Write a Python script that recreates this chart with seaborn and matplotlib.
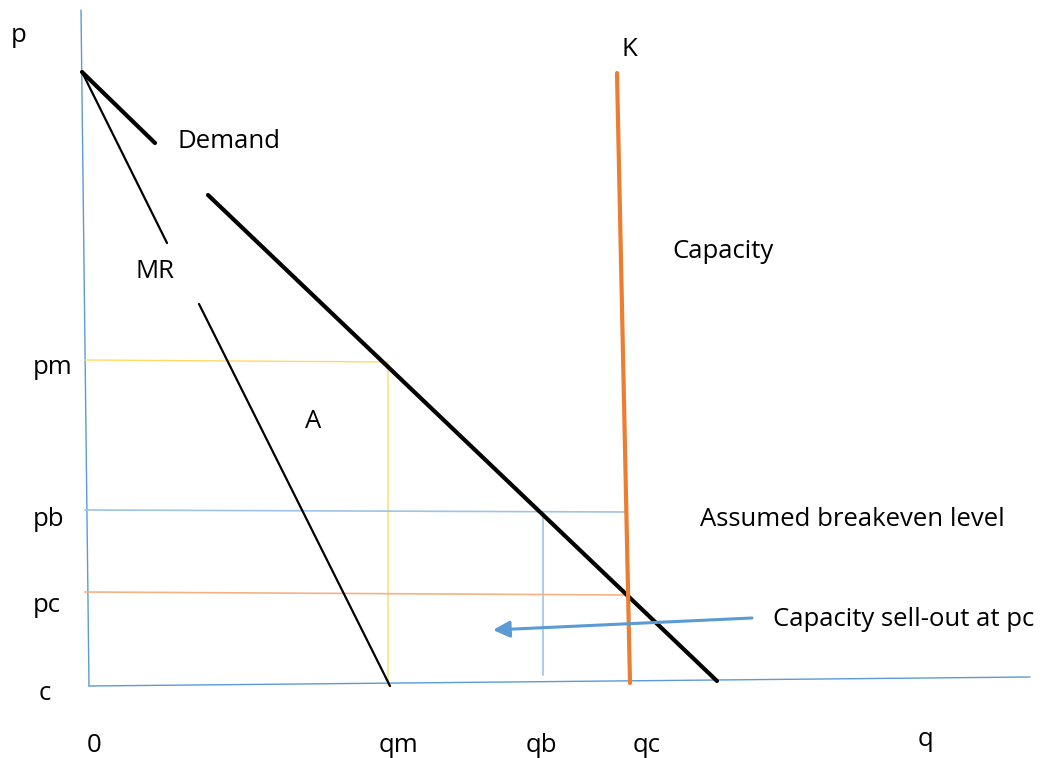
import pandas as pd
import matplotlib.pyplot as plt
import seaborn as sns

# Coordinates of the diagram (drawing units, y grows downward)
axis_q = [81, 89, 1030]
axis_p = [10, 686, 677]

demand_q = [82, 155, 208, 717]
demand_p = [72, 143, 195, 681]

mr_q = [82, 167, 199, 390]
mr_p = [72, 243, 304, 686]

capacity_q = [617, 630]
capacity_p = [73, 683]

pm_q = [85, 388, 388]
pm_p = [360, 362, 686]
pb_q = [85, 627]
pb_p = [510, 512]
qb_q = [543, 543]
qb_p = [512, 675]
pc_q = [85, 627]
pc_p = [592, 595]

arrow_start = (752, 618)
arrow_end = (493, 630)

price_labels = ['p', 'pm', 'pb', 'pc', 'c']
price_label_x = [11, 33, 33, 33, 39]
price_label_y = [35, 367, 519, 605, 694]

qty_labels = ['0', 'qm', 'qb', 'qc', 'q']
qty_label_x = [87, 379, 526, 633, 918]
qty_label_y = [745, 745, 745, 745, 740]

sns.set_style('white')
plt.rcParams['font.family'] = ['Open Sans', 'DejaVu Sans']

fig = plt.figure(figsize=(10.45, 7.58), dpi=100)
ax = fig.add_axes([0, 0, 1, 1])

def seg(q, p, color, lw):
    df = pd.DataFrame({'q': q, 'p': p})
    sns.lineplot(data=df, x='q', y='p', sort=False, estimator=None,
                 color=color, linewidth=lw, ax=ax)

# Axes
seg(axis_q[:2], axis_p[:2], '#5B9BD5', 1.0)
seg(axis_q[1:], axis_p[1:], '#5B9BD5', 1.0)

# Guide lines
seg(pm_q, pm_p, '#FFD966', 1.0)
seg(pb_q, pb_p, '#9DC3E6', 1.2)
seg(qb_q, qb_p, '#9DC3E6', 1.2)
seg(pc_q, pc_p, '#F4B183', 1.2)

# Demand (broken around its label)
seg(demand_q[:2], demand_p[:2], 'black', 3.0)
seg(demand_q[2:], demand_p[2:], 'black', 3.0)

# Marginal revenue (broken around its label)
seg(mr_q[:2], mr_p[:2], 'black', 1.6)
seg(mr_q[2:], mr_p[2:], 'black', 1.6)

# Capacity
seg(capacity_q, capacity_p, '#ED7D31', 3.0)

ax.annotate('', xy=arrow_end, xytext=arrow_start,
            arrowprops=dict(arrowstyle='-|>,head_length=1.0,head_width=0.5',
                            color='#5B9BD5', lw=2.2, shrinkA=0, shrinkB=0))

fs = 18.5
for t, x, y in zip(price_labels, price_label_x, price_label_y):
    ax.text(x, y, t, fontsize=fs, va='center', ha='left', color='black')
for t, x, y in zip(qty_labels, qty_label_x, qty_label_y):
    ax.text(x, y, t, fontsize=fs, va='center', ha='left', color='black')

ax.text(178, 141, 'Demand', fontsize=fs, va='center', ha='left', color='black')
ax.text(135, 272, 'MR', fontsize=fs, va='center', ha='left', color='black')
ax.text(622, 50, 'K', fontsize=fs, va='center', ha='left', color='black')
ax.text(672, 251, 'Capacity', fontsize=fs, va='center', ha='left', color='black')
ax.text(305, 421, 'A', fontsize=fs, va='center', ha='left', color='black')
ax.text(700, 519, 'Assumed breakeven level', fontsize=fs, va='center', ha='left', color='black')
ax.text(773, 620, 'Capacity sell-out at pc', fontsize=fs, va='center', ha='left', color='black')

ax.set_xlim(0, 1045)
ax.set_ylim(758, 0)
ax.axis('off')

fig.savefig('out.png', dpi=100)
